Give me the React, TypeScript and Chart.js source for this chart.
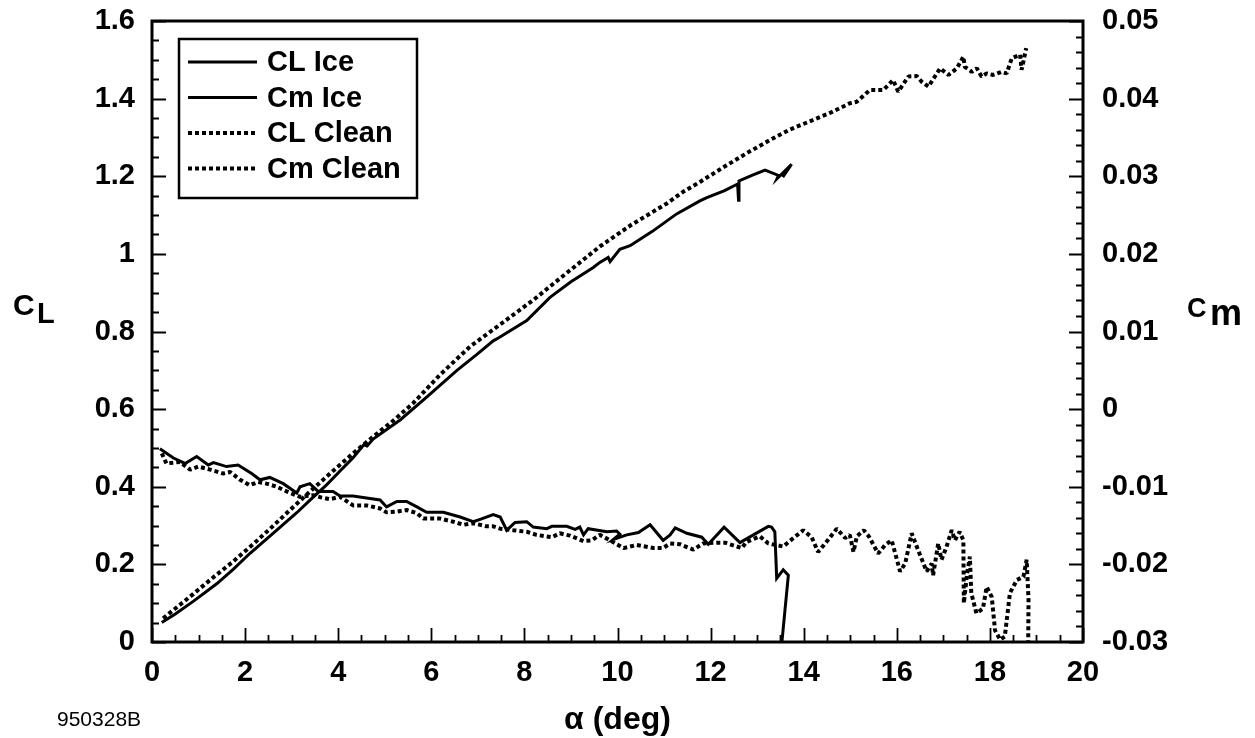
import React, { useEffect, useRef } from 'react';
import { Chart, registerables } from 'chart.js';

Chart.register(...registerables);

// ---- tick values and labels ----
const alphaTicks = [0, 2, 4, 6, 8, 10, 12, 14, 16, 18, 20];
const alphaTickLabels = ['0', '2', '4', '6', '8', '10', '12', '14', '16', '18', '20'];
const clTicks = [0, 0.2, 0.4, 0.6, 0.8, 1.0, 1.2, 1.4, 1.6];
const clTickLabels = ['0', '0.2', '0.4', '0.6', '0.8', '1', '1.2', '1.4', '1.6'];
const cmTicks = [-0.03, -0.02, -0.01, 0, 0.01, 0.02, 0.03, 0.04, 0.05];
const cmTickLabels = ['-0.03', '-0.02', '-0.01', '0', '0.01', '0.02', '0.03', '0.04', '0.05'];

const seriesNames = ['CL Ice', 'Cm Ice', 'CL Clean', 'Cm Clean'];

// ---- CL, iced airfoil ----
const alphaClIce = [0.21, 0.5, 0.9, 1.39, 1.75, 2.1, 2.6, 3.11, 3.4, 3.75, 4.05, 4.32, 4.55, 4.62, 4.75, 5.33, 5.9, 6.545, 7.0, 7.33, 7.45, 8.05, 8.55, 9.0, 9.48, 9.62, 9.8, 9.84, 10.05, 10.27, 10.75, 11.27, 11.78, 11.92, 12.3, 12.58, 12.6, 12.61, 12.9, 13.17, 13.46, 13.43, 13.74, 13.55];
const clIce = [0.050, 0.072, 0.106, 0.150, 0.188, 0.228, 0.280, 0.333, 0.366, 0.405, 0.442, 0.475, 0.508, 0.505, 0.523, 0.572, 0.631, 0.699, 0.743, 0.776, 0.784, 0.828, 0.888, 0.928, 0.965, 0.978, 0.991, 0.980, 1.012, 1.021, 1.058, 1.103, 1.137, 1.145, 1.163, 1.180, 1.138, 1.188, 1.203, 1.216, 1.202, 1.194, 1.231, 1.198];

// ---- Cm, iced airfoil ----
const alphaCmIce = [0.17, 0.46, 0.71, 0.96, 1.21, 1.32, 1.6, 1.85, 2.14, 2.32, 2.53, 2.82, 3.11, 3.18, 3.39, 3.57, 3.89, 4.04, 4.32, 4.68, 4.9, 5.04, 5.26, 5.47, 5.69, 5.9, 6.26, 6.62, 6.9, 7.05, 7.33, 7.48, 7.62, 7.8, 8.05, 8.19, 8.48, 8.59, 8.91, 9.09, 9.19, 9.27, 9.37, 9.77, 9.98, 10.05, 9.91, 10.2, 10.45, 10.7, 10.98, 11.13, 11.24, 11.49, 11.81, 11.95, 12.29, 12.63, 12.92, 13.24, 13.31, 13.38, 13.42, 13.56, 13.67, 13.50];
const cmIce = [-0.0051, -0.0063, -0.0070, -0.0061, -0.0072, -0.0069, -0.0074, -0.0072, -0.0083, -0.0091, -0.0088, -0.0096, -0.0108, -0.0100, -0.0096, -0.0106, -0.0106, -0.0112, -0.0112, -0.0115, -0.0117, -0.0126, -0.0119, -0.0119, -0.0126, -0.0133, -0.0133, -0.0139, -0.0145, -0.0142, -0.0136, -0.0139, -0.0156, -0.0146, -0.0145, -0.0152, -0.0154, -0.0151, -0.0151, -0.0155, -0.0152, -0.0162, -0.0154, -0.0158, -0.0157, -0.0161, -0.0168, -0.0162, -0.0159, -0.0149, -0.0169, -0.0162, -0.0153, -0.0160, -0.0165, -0.0174, -0.0152, -0.0172, -0.0162, -0.0151, -0.0152, -0.0158, -0.0218, -0.0207, -0.0214, -0.0320];

// ---- CL, clean airfoil ----
const alphaClClean = [0.24, 0.55, 0.89, 1.3, 1.75, 2.2, 2.61, 3.0, 3.47, 3.9, 4.32, 4.75, 5.18, 5.6, 6.2, 6.83, 7.5, 8.19, 8.9, 9.62, 10.3, 11.06, 11.41, 11.78, 12.3, 12.77, 13.3, 13.7, 14.2, 14.6, 14.99, 15.14, 15.42, 15.71, 15.92, 16.03, 16.25, 16.43, 16.53, 16.68, 16.93, 17.11, 17.29, 17.43, 17.46, 17.61, 17.72, 17.82, 17.93, 18.07, 18.25, 18.36, 18.47, 18.65, 18.68, 18.71, 18.78];
const clClean = [0.061, 0.091, 0.124, 0.165, 0.208, 0.255, 0.300, 0.344, 0.396, 0.442, 0.486, 0.529, 0.570, 0.614, 0.690, 0.761, 0.820, 0.881, 0.950, 1.019, 1.075, 1.130, 1.160, 1.186, 1.225, 1.259, 1.295, 1.320, 1.345, 1.365, 1.388, 1.392, 1.422, 1.422, 1.448, 1.418, 1.457, 1.458, 1.444, 1.431, 1.478, 1.461, 1.478, 1.508, 1.482, 1.469, 1.478, 1.457, 1.465, 1.461, 1.469, 1.465, 1.504, 1.513, 1.474, 1.490, 1.530];

// ---- Cm, clean airfoil ----
const alphaCmClean = [0.21, 0.31, 0.6, 0.82, 0.99, 1.25, 1.53, 1.68, 1.89, 2.1, 2.28, 2.46, 2.68, 2.89, 3.18, 3.47, 3.65, 3.82, 4.04, 4.32, 4.61, 4.9, 5.04, 5.26, 5.47, 5.69, 5.83, 6.19, 6.47, 6.69, 6.9, 7.19, 7.33, 7.48, 7.76, 8.05, 8.26, 8.59, 8.76, 8.98, 9.27, 9.45, 9.62, 9.84, 10.13, 10.41, 10.77, 10.98, 11.13, 11.34, 11.63, 11.84, 12.13, 12.31, 12.56, 12.67, 12.77, 13.06, 13.24, 13.56, 13.78, 13.99, 14.17, 14.31, 14.49, 14.71, 14.89, 14.99, 15.07, 15.14, 15.29, 15.4, 15.6, 15.75, 15.89, 16.07, 16.18, 16.32, 16.46, 16.64, 16.75, 16.78, 16.89, 16.96, 17.07, 17.18, 17.25, 17.35, 17.43, 17.44, 17.51, 17.57, 17.6, 17.71, 17.85, 17.93, 18.04, 18.11, 18.22, 18.32, 18.43, 18.58, 18.72, 18.79, 18.83, 18.82];
const cmClean = [-0.0057, -0.0070, -0.0068, -0.0078, -0.0074, -0.0078, -0.0083, -0.0081, -0.0091, -0.0098, -0.0094, -0.0096, -0.0100, -0.0106, -0.0113, -0.0111, -0.0114, -0.0116, -0.0113, -0.0124, -0.0124, -0.0128, -0.0133, -0.0132, -0.0130, -0.0134, -0.0141, -0.0141, -0.0145, -0.0149, -0.0147, -0.0151, -0.0151, -0.0154, -0.0156, -0.0158, -0.0162, -0.0165, -0.0160, -0.0163, -0.0170, -0.0169, -0.0162, -0.0169, -0.0179, -0.0175, -0.0179, -0.0179, -0.0173, -0.0174, -0.0181, -0.0173, -0.0172, -0.0172, -0.0177, -0.0179, -0.0171, -0.0164, -0.0173, -0.0177, -0.0166, -0.0156, -0.0165, -0.0184, -0.0171, -0.0154, -0.0166, -0.0162, -0.0184, -0.0164, -0.0156, -0.0164, -0.0186, -0.0175, -0.0169, -0.0209, -0.0199, -0.0160, -0.0182, -0.0209, -0.0199, -0.0214, -0.0173, -0.0194, -0.0177, -0.0156, -0.0169, -0.0158, -0.0169, -0.0250, -0.0212, -0.0190, -0.0237, -0.0263, -0.0257, -0.0229, -0.0242, -0.0285, -0.0297, -0.0293, -0.0237, -0.0220, -0.0216, -0.0194, -0.0246, -0.0320];

const FONT = '"Liberation Sans", Arial, Helvetica, sans-serif';
const DOT_DASH = [4, 3];

const zip = (xs: number[], ys: number[]) => xs.map((x, i) => ({ x, y: ys[i] }));

const decorPlugin = {
  id: 'decor',
  afterDatasetsDraw(chart: any) {
    const { ctx, chartArea: ca, scales } = chart;
    const xs = scales.x;
    const yl = scales.y;
    const yr = scales.y1;
    ctx.save();
    ctx.strokeStyle = '#000';
    ctx.lineCap = 'butt';
    ctx.lineWidth = 1.8;
    ctx.beginPath();
    for (let i = 0; i <= 40; i++) {
      const p = Math.round(xs.getPixelForValue(i * 0.5)) + 0.5;
      const len = i % 4 === 0 ? 14 : 7;
      ctx.moveTo(p, ca.bottom);
      ctx.lineTo(p, ca.bottom - len);
    }
    for (let i = 0; i <= 32; i++) {
      const p = Math.round(yl.getPixelForValue(i * 0.05)) + 0.5;
      const len = i % 4 === 0 ? 14 : 7;
      ctx.moveTo(ca.left, p);
      ctx.lineTo(ca.left + len, p);
    }
    for (let i = 0; i <= 40; i++) {
      const p = Math.round(yr.getPixelForValue(-0.03 + i * 0.002)) + 0.5;
      const len = i % 5 === 0 ? 14 : 7;
      ctx.moveTo(ca.right, p);
      ctx.lineTo(ca.right - len, p);
    }
    ctx.stroke();
    ctx.lineWidth = 3;
    ctx.strokeRect(ca.left, ca.top, ca.right - ca.left, ca.bottom - ca.top);
    ctx.restore();
  },
  afterDraw(chart: any) {
    const { ctx, chartArea: ca } = chart;
    ctx.save();
    ctx.strokeStyle = '#000';

    // legend box
    const bx = ca.left + 27;
    const by = ca.top + 18;
    ctx.fillStyle = '#fff';
    ctx.fillRect(bx, by, 238, 159);
    ctx.lineWidth = 2.5;
    ctx.strokeRect(bx, by, 238, 159);
    ctx.fillStyle = '#000';
    ctx.font = `bold 29px ${FONT}`;
    ctx.textBaseline = 'middle';
    ctx.textAlign = 'left';
    chart.data.datasets.forEach((ds: any, i: number) => {
      const ry = by + 23 + i * 35.5;
      ctx.beginPath();
      ctx.lineWidth = ds.borderWidth;
      ctx.setLineDash(ds.borderDash || []);
      ctx.moveTo(bx + 9, ry);
      ctx.lineTo(bx + 78, ry);
      ctx.stroke();
      ctx.setLineDash([]);
      ctx.fillText(ds.label, bx + 88, ry + 1);
    });

    // axis titles
    ctx.textBaseline = 'alphabetic';
    ctx.font = `bold 30px ${FONT}`;
    ctx.fillText('C', 13, 315);
    ctx.font = `bold 29px ${FONT}`;
    ctx.fillText('L', 37, 323);

    ctx.font = `bold 27px ${FONT}`;
    ctx.fillText('C', 1187, 317);
    ctx.font = `bold 36px ${FONT}`;
    ctx.fillText('m', 1210, 325);

    ctx.font = `bold 32px ${FONT}`;
    ctx.textAlign = 'center';
    ctx.fillText('\u03b1 (deg)', (ca.left + ca.right) / 2, 729);

    ctx.font = `21px ${FONT}`;
    ctx.textAlign = 'left';
    ctx.fillText('950328B', 57, 726);
    ctx.restore();
  },
};

export default function App() {
  const canvasRef = useRef<HTMLCanvasElement | null>(null);

  useEffect(() => {
    document.body.style.margin = '0';
    const canvas = canvasRef.current;
    if (!canvas) return;
    const tickFont = { family: FONT, size: 29, weight: 'bold' as const };
    const zeroPad = (axis: any) => {
      axis.paddingTop = 0;
      axis.paddingBottom = 0;
      axis.paddingLeft = 0;
      axis.paddingRight = 0;
    };
    const solid = { borderColor: '#000', backgroundColor: '#000', borderWidth: 3, borderDash: [], borderJoinStyle: 'miter', showLine: true, pointRadius: 0, tension: 0 };
    const dotted = { borderColor: '#000', backgroundColor: '#000', borderWidth: 4, borderDash: DOT_DASH, borderJoinStyle: 'bevel', showLine: true, pointRadius: 0, tension: 0 };
    const chart = new Chart(canvas, {
      type: 'scatter',
      data: {
        datasets: [
          { ...solid, label: seriesNames[0], data: zip(alphaClIce, clIce), yAxisID: 'y' },
          { ...solid, label: seriesNames[1], data: zip(alphaCmIce, cmIce), yAxisID: 'y1' },
          { ...dotted, label: seriesNames[2], data: zip(alphaClClean, clClean), yAxisID: 'y' },
          { ...dotted, label: seriesNames[3], data: zip(alphaCmClean, cmClean), yAxisID: 'y1' },
        ],
      },
      options: {
        animation: false,
        responsive: false,
        devicePixelRatio: 1,
        layout: { padding: { top: 21, left: 0, right: 0, bottom: 0 } },
        plugins: { legend: { display: false }, tooltip: { enabled: false } },
        scales: {
          x: {
            type: 'linear',
            position: 'bottom',
            min: 0,
            max: 20,
            grid: { display: false, drawTicks: false },
            border: { display: false },
            afterBuildTicks: (axis: any) => { axis.ticks = alphaTicks.map((v) => ({ value: v })); },
            afterFit: (axis: any) => { axis.height = 96; zeroPad(axis); },
            ticks: {
              autoSkip: false,
              maxRotation: 0,
              padding: 14,
              color: '#000',
              font: tickFont,
              callback: (_v: any, i: number) => alphaTickLabels[i],
            },
          },
          y: {
            type: 'linear',
            position: 'left',
            min: 0,
            max: 1.6,
            grid: { display: false, drawTicks: false },
            border: { display: false },
            afterBuildTicks: (axis: any) => { axis.ticks = clTicks.map((v) => ({ value: v })); },
            afterFit: (axis: any) => { axis.width = 152; zeroPad(axis); },
            ticks: {
              autoSkip: false,
              padding: 17,
              color: '#000',
              font: tickFont,
              callback: (_v: any, i: number) => clTickLabels[i],
            },
          },
          y1: {
            type: 'linear',
            position: 'right',
            min: -0.03,
            max: 0.05,
            grid: { display: false, drawTicks: false },
            border: { display: false },
            afterBuildTicks: (axis: any) => { axis.ticks = cmTicks.map((v) => ({ value: v })); },
            afterFit: (axis: any) => { axis.width = 172; zeroPad(axis); },
            ticks: {
              autoSkip: false,
              padding: 19,
              color: '#000',
              font: tickFont,
              callback: (_v: any, i: number) => cmTickLabels[i],
            },
          },
        },
      },
      plugins: [decorPlugin],
    } as any);
    return () => chart.destroy();
  }, []);

  return (
    <div style={{ width: 1255, height: 738 }}>
      <canvas ref={canvasRef} width={1255} height={738} style={{ display: 'block' }} />
    </div>
  );
}
